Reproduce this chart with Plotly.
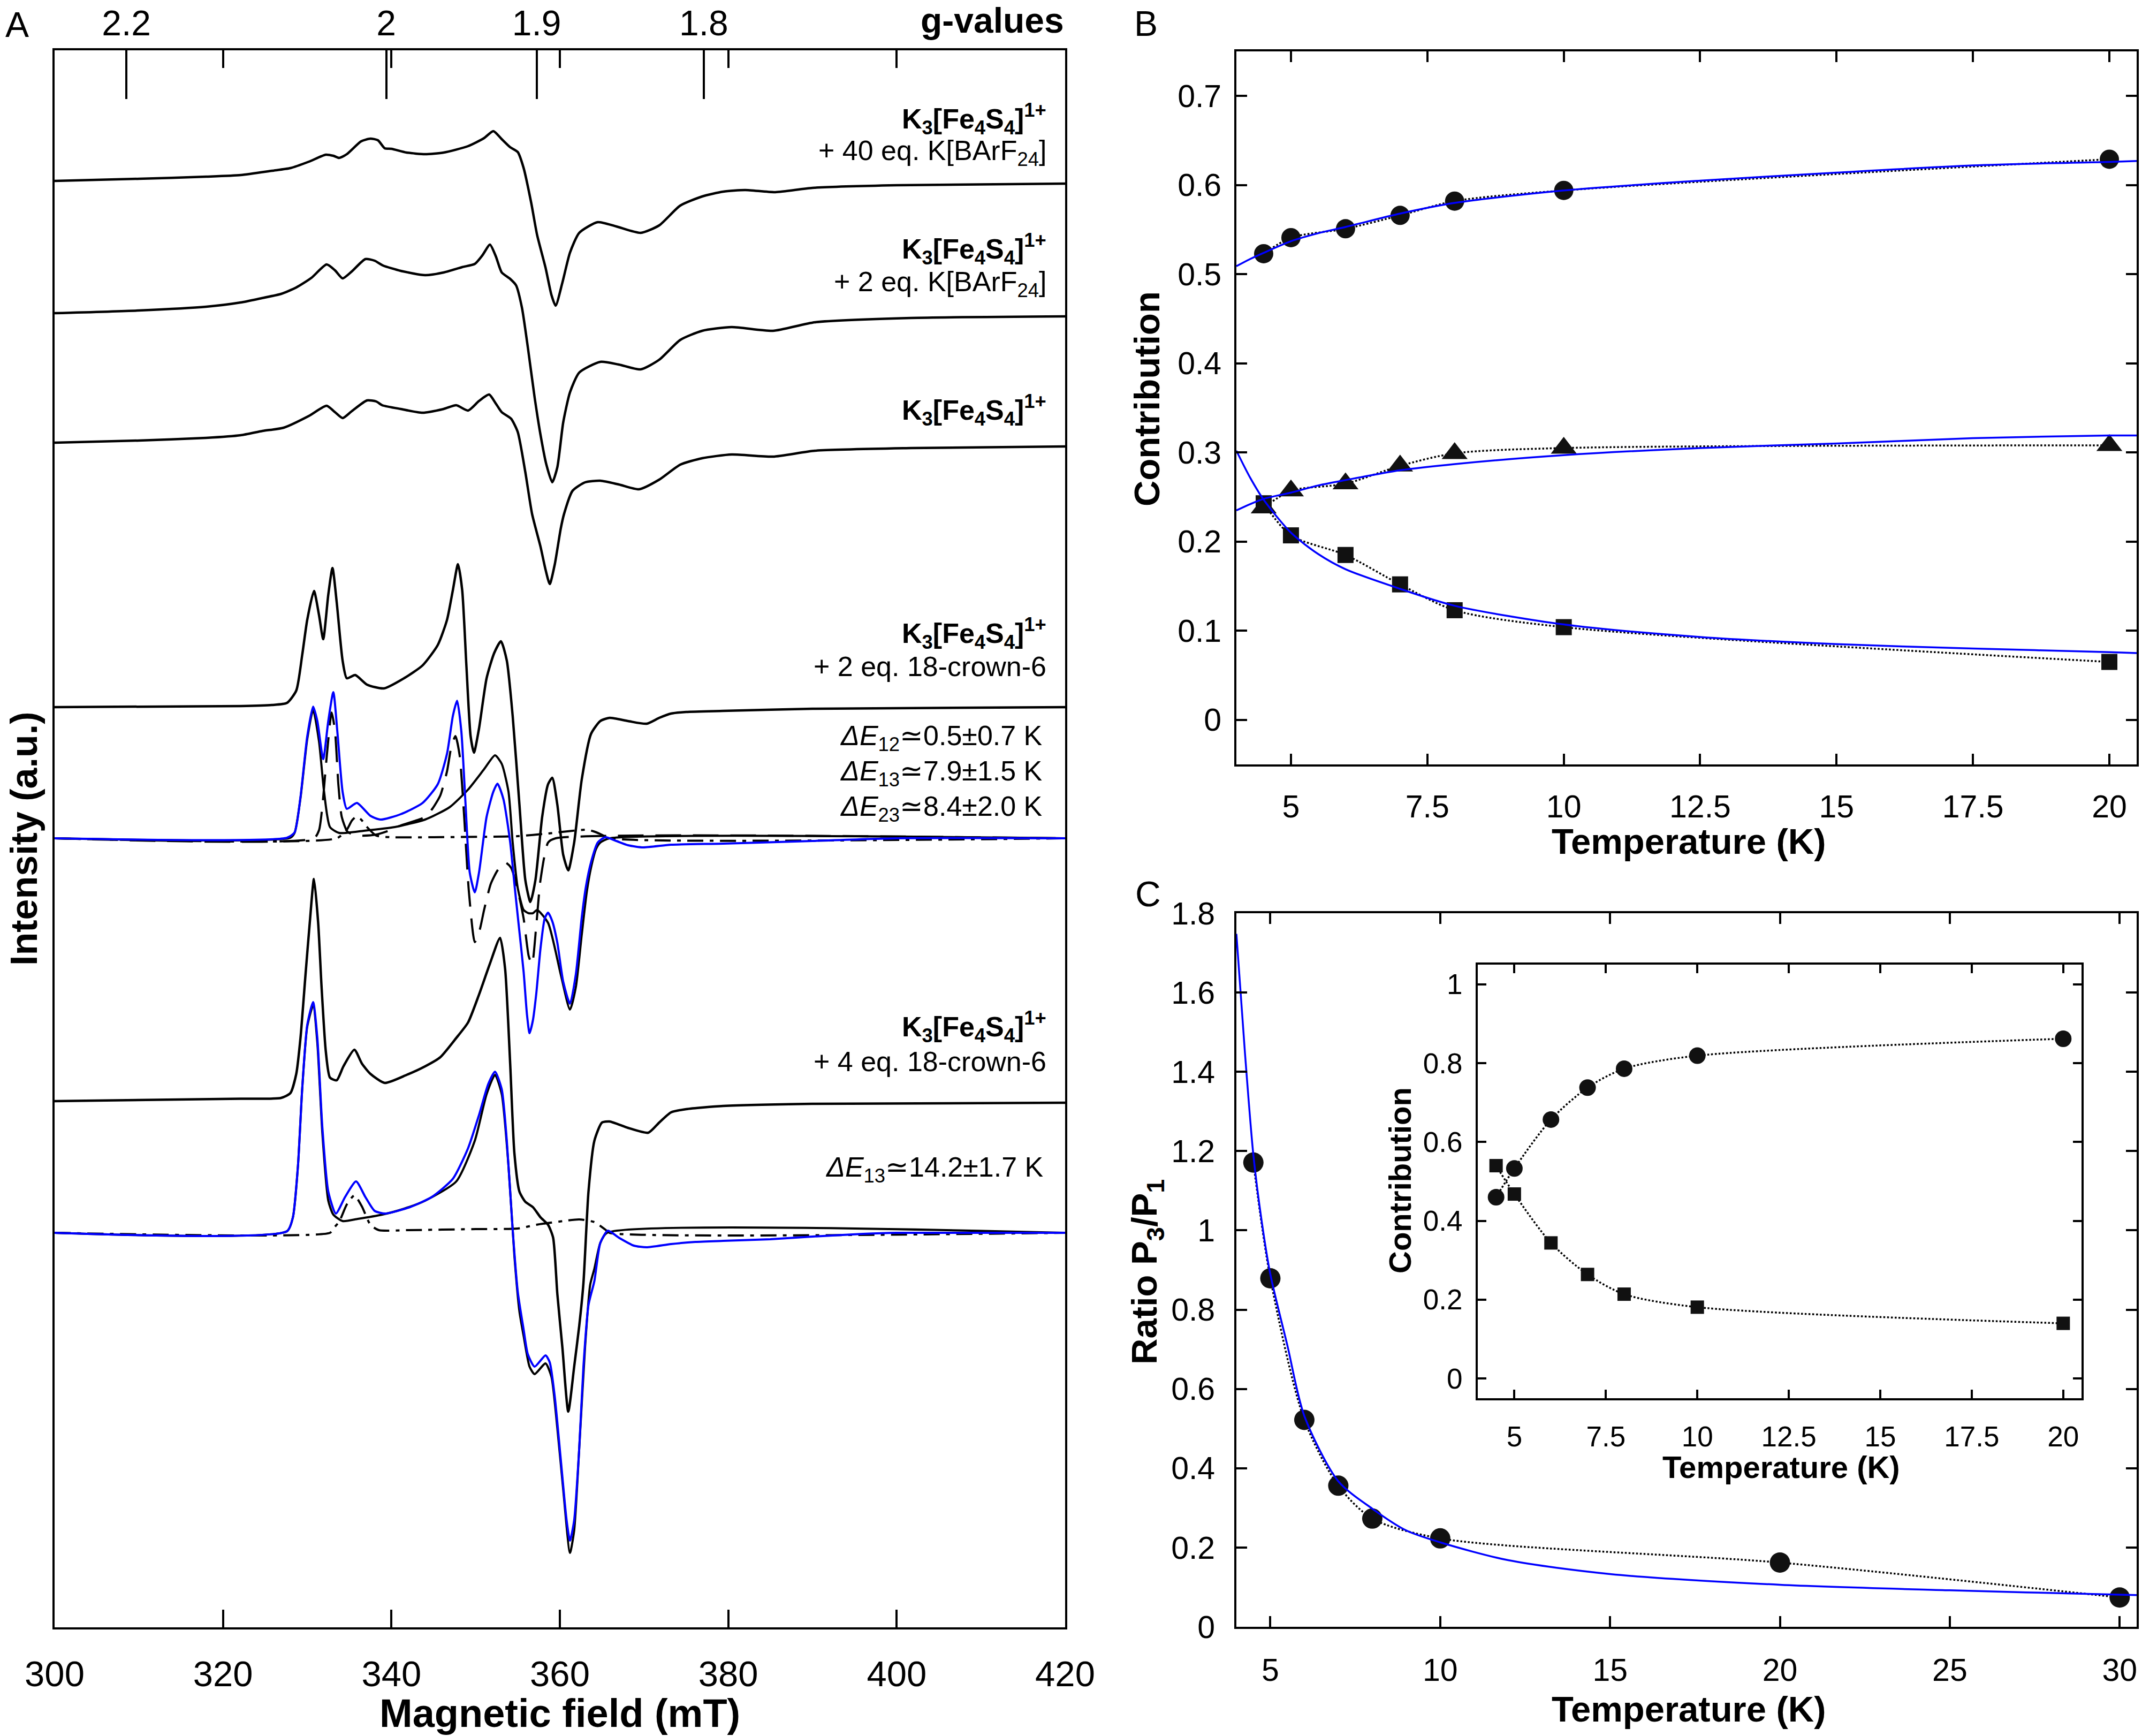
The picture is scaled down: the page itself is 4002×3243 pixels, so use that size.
import plotly.graph_objects as go

W, H = 4002, 3243
FONT = "Liberation Sans, Arial, Helvetica, sans-serif"
BLACK = "#000000"
BLUE = "#0000ff"

# ------------------------------------------------------------------
# Panel A : EPR spectra (field in mT, intensity in a.u., relative to baseline)
# ------------------------------------------------------------------
field_40eq = [300, 310, 318, 322.1, 325.8, 328.0, 330.2, 332.2, 333.1, 333.8,
              334.7, 336.4, 337.5, 338.4, 339.2, 340.0, 341.8, 344.0, 346.2, 349.1,
              351.0, 352.1, 353.1, 354.1, 355.0, 355.7, 356.6, 357.3, 358.3, 359.0,
              359.5, 360.3, 361.2, 362.3, 364.5, 366.7, 369.6, 371.8, 374.3, 376.9,
              379.4, 382, 385.6, 390, 400, 420]
int_40eq = [0, 0.04, 0.08, 0.11, 0.19, 0.24, 0.36, 0.49, 0.47, 0.43,
            0.50, 0.74, 0.79, 0.76, 0.61, 0.60, 0.53, 0.50, 0.53, 0.65,
            0.80, 0.93, 0.78, 0.63, 0.54, 0.24, -0.41, -1.01, -1.62, -2.13,
            -2.33, -1.90, -1.34, -0.97, -0.77, -0.85, -0.97, -0.83, -0.46, -0.29,
            -0.20, -0.17, -0.21, -0.13, -0.08, -0.05]

field_2eqB = [300, 310, 318, 322.1, 324.3, 326.9, 328.7, 330.5, 332.3, 333.3,
              334.2, 335.3, 336.9, 338.0, 339.0, 341.1, 344.0, 346.2, 348.4, 349.9,
              350.8, 351.7, 352.4, 353.1, 354.1, 354.8, 355.5, 356.2, 357.0, 357.7,
              358.4, 359.1, 359.7, 360.4, 361.2, 362.3, 364.8, 367.0, 369.6, 371.8,
              374.3, 376.9, 380.4, 385.3, 390.3, 401.7, 420]
int_2eqB = [0, 0.05, 0.12, 0.20, 0.27, 0.36, 0.48, 0.66, 0.91, 0.80,
            0.65, 0.78, 1.01, 0.98, 0.89, 0.79, 0.71, 0.76, 0.86, 0.92,
            1.08, 1.28, 1.06, 0.76, 0.64, 0.52, 0.10, -0.64, -1.57, -2.27,
            -2.83, -3.16, -2.88, -2.04, -1.48, -1.11, -0.91, -0.96, -1.05, -0.87,
            -0.50, -0.33, -0.26, -0.33, -0.17, -0.09, -0.06]

field_pure = [300, 310, 318, 322.1, 324.7, 327.2, 330.2, 332.3, 333.3, 334.2,
              335.3, 337.1, 338.2, 338.9, 341.1, 343.7, 346.2, 347.7, 349.1, 350.4,
              351.6, 352.4, 353.1, 354.2, 355.0, 355.9, 356.7, 357.7, 358.3, 358.8,
              359.4, 360.1, 360.5, 361.5, 363.0, 364.8, 367.0, 369.4, 371.8, 374.3,
              376.9, 380.4, 385.3, 390.3, 401.7, 420]
int_pure = [0, 0.04, 0.09, 0.14, 0.22, 0.28, 0.50, 0.69, 0.57, 0.46,
            0.59, 0.79, 0.77, 0.70, 0.63, 0.56, 0.63, 0.70, 0.60, 0.78,
            0.90, 0.73, 0.57, 0.45, 0.20, -0.55, -1.33, -1.94, -2.37, -2.64,
            -2.27, -1.61, -1.33, -0.90, -0.74, -0.71, -0.78, -0.87, -0.69, -0.41,
            -0.29, -0.22, -0.26, -0.15, -0.10, -0.07]

field_2crown = [300, 322.1, 325.8, 327.6, 328.7, 329.4, 330.0, 330.8, 331.4, 331.9,
                332.5, 333.0, 333.5, 334.2, 334.7, 335.7, 337.1, 339.1, 341.5, 343.7,
                345.5, 346.6, 347.3, 347.9, 348.4, 348.9, 349.4, 349.8, 350.4, 351.3,
                352.2, 353.0, 353.7, 354.4, 355.2, 355.9, 356.5, 357.1, 357.9, 358.6,
                359.1, 359.7, 360.4, 361.0, 361.7, 362.6, 363.7, 364.8, 365.9, 368.1,
                370.3, 371.8, 373.2, 375.0, 379.4, 390, 420]
int_2crown = [0, 0.02, 0.04, 0.08, 0.31, 0.97, 1.63, 2.17, 1.72, 1.27,
              2.10, 2.60, 1.96, 0.87, 0.54, 0.60, 0.42, 0.35, 0.54, 0.78,
              1.16, 1.63, 2.19, 2.67, 2.19, 0.78, -0.54, -0.85, -0.40, 0.54,
              1.01, 1.23, 0.87, -0.17, -1.82, -3.23, -3.64, -3.23, -2.05, -1.44,
              -1.32, -1.82, -2.76, -3.05, -2.53, -1.35, -0.50, -0.26, -0.20, -0.26,
              -0.31, -0.20, -0.12, -0.09, -0.07, -0.03, 0]

field_sim2 = [300, 327.6, 328.5, 329.2, 330.0, 330.7, 331.2, 331.9, 332.5, 333.1,
              333.6, 334.2, 334.7, 335.9, 337.5, 338.7, 341.1, 343.7, 345.5, 346.6,
              347.3, 347.8, 348.3, 348.8, 349.3, 349.9, 350.4, 351.3, 352.1, 352.6,
              353.3, 354.1, 354.6, 355.1, 355.7, 356.1, 356.4, 356.8, 357.2, 357.7,
              358.2, 358.6, 359.1, 359.7, 360.4, 361.2, 361.9, 362.6, 363.1, 363.7,
              364.5, 365.4, 366.7, 368.1, 369.9, 373.2, 379.4, 390, 400, 420]
int_sim2 = [0, 0.01, 0.11, 0.77, 1.90, 2.46, 2.19, 1.48, 2.19, 2.73,
            1.95, 0.87, 0.55, 0.66, 0.42, 0.35, 0.45, 0.66, 1.01, 1.58,
            2.29, 2.57, 2.00, 0.64, -0.64, -1.01, -0.64, 0.40, 0.87, 1.02,
            0.73, -0.07, -0.85, -1.60, -2.50, -3.30, -3.64, -3.40, -2.90, -2.06,
            -1.50, -1.39, -1.55, -1.95, -2.68, -3.09, -2.54, -1.48, -0.90, -0.45,
            -0.08, 0.02, -0.05, -0.13, -0.17, -0.12, -0.10, -0.05, 0, 0]

field_c2_solid = [300, 328.0, 328.5, 329.2, 330.0, 330.7, 331.4, 332.0, 332.7, 333.8,
                  336.7, 340.4, 344.0, 346.9, 349.1, 351.0, 352.3, 353.1, 353.9, 354.4,
                  355.0, 355.7, 356.3, 356.8, 357.3, 358.6, 360.1, 361.2, 361.9, 362.6,
                  363.2, 363.7, 364.3, 364.8, 365.9, 420]
int_c2_solid = [0, 0.01, 0.10, 0.75, 1.85, 2.40, 1.81, 0.87, 0.21, 0.10,
                0.14, 0.21, 0.35, 0.58, 0.91, 1.29, 1.55, 1.39, 0.87, -0.08,
                -0.93, -1.34, -1.40, -1.40, -1.34, -1.58, -2.54, -3.20, -2.78, -1.80,
                -1.00, -0.55, -0.20, -0.08, 0, 0]

field_c2_dash = [300, 330.8, 331.4, 331.8, 332.3, 332.9, 333.3, 333.7, 334.1, 334.8,
                 336.0, 338.2, 340.0, 341.1, 342.7, 344.0, 344.9, 345.8, 346.6, 347.1,
                 347.6, 348.1, 348.6, 349.2, 349.9, 350.5, 351.0, 351.8, 352.6, 353.5,
                 354.2, 354.9, 355.7, 356.3, 356.7, 357.2, 357.7, 358.6, 359.5, 420]
int_c2_dash = [0, 0, 0.15, 0.60, 1.50, 2.35, 2.00, 1.00, 0.40, 0.12,
               0.05, 0.07, 0.16, 0.24, 0.32, 0.40, 0.56, 0.80, 1.25, 1.70,
               1.91, 1.55, 0.50, -1.00, -1.94, -1.70, -1.34, -0.85, -0.60, -0.45,
               -0.55, -0.90, -1.50, -2.20, -2.35, -1.63, -0.78, -0.08, 0, 0]

field_c2_dashdot = [300, 333.5, 334.7, 335.3, 335.8, 336.4, 337.1, 338.2, 340, 345,
                    352, 355.0, 358.6, 361.5, 363.2, 364.0, 364.8, 365.9, 420]
int_c2_dashdot = [0, 0, 0.16, 0.33, 0.40, 0.35, 0.21, 0.05, 0.02, 0.02,
                  0.03, 0.04, 0.09, 0.14, 0.16, 0.13, 0.08, 0, 0]

field_4crown = [300, 322.1, 326.9, 328.0, 328.7, 329.2, 329.8, 330.3, 330.8, 331.3,
                331.7, 332.2, 332.7, 333.5, 334.3, 335.6, 336.5, 337.5, 339.2, 341.8,
                344.0, 345.8, 347.7, 349.1, 350.4, 351.7, 352.9, 353.5, 354.1, 354.6,
                355.2, 355.9, 356.8, 357.7, 358.6, 359.2, 359.7, 360.3, 361.0, 361.7,
                362.3, 362.8, 363.4, 364.1, 365.0, 365.9, 368.1, 370.5, 371.8, 373.2,
                375.0, 379.4, 390, 420]
int_4crown = [0, 0.045, 0.06, 0.15, 0.51, 1.18, 2.37, 3.33, 4.15, 3.33,
              2.14, 0.94, 0.44, 0.39, 0.65, 0.96, 0.70, 0.51, 0.34, 0.49,
              0.65, 0.82, 1.18, 1.47, 1.99, 2.57, 3.05, 2.47, 0.70, -0.97,
              -1.69, -1.88, -1.98, -2.17, -2.31, -2.55, -3.60, -4.60, -5.80, -4.96,
              -4.20, -3.40, -1.69, -0.74, -0.40, -0.38, -0.50, -0.59, -0.40, -0.21,
              -0.15, -0.09, -0.05, -0.03]

field_sim4 = [300, 327.6, 328.3, 328.9, 329.4, 330.0, 330.7, 331.2, 331.8, 332.5,
              333.4, 334.5, 335.8, 336.9, 338.0, 339.3, 342.2, 344.8, 347.3, 349.1,
              350.4, 351.5, 352.3, 353.1, 353.7, 354.4, 355.0, 355.7, 356.2, 357.0,
              358.3, 358.8, 359.4, 360.1, 360.8, 361.2, 361.7, 362.3, 362.8, 363.4,
              364.1, 364.8, 365.7, 367.0, 368.8, 370.3, 373.2, 376.1, 379.4, 385,
              390, 396, 400, 420]
int_sim4 = [0, 0.03, 0.29, 1.25, 2.68, 3.88, 4.31, 3.64, 1.96, 0.77,
            0.36, 0.67, 0.96, 0.67, 0.41, 0.36, 0.48, 0.67, 1.01, 1.58,
            2.20, 2.78, 3.01, 2.68, 1.72, 0.05, -1.10, -1.81, -2.27, -2.50,
            -2.29, -2.42, -3.07, -4.22, -5.37, -5.75, -5.37, -4.03, -2.50, -1.35,
            -0.90, -0.19, 0.04, -0.09, -0.24, -0.27, -0.21, -0.17, -0.15, -0.12,
            -0.07, -0.02, 0, 0]

field_c4_solid = [300, 327.6, 328.3, 328.9, 329.4, 330.0, 330.7, 331.2, 331.8, 332.5,
                  333.1, 334.2, 336.0, 338.9, 341.5, 344.0, 347.7, 349.9, 351.3, 352.3,
                  353.1, 353.9, 354.6, 355.2, 355.7, 356.4, 357.0, 358.3, 359.0, 359.7,
                  360.4, 361.2, 361.7, 362.3, 363.0, 363.6, 364.1, 364.8, 365.6, 420]
int_c4_solid = [0, 0.03, 0.29, 1.25, 2.68, 3.85, 4.25, 3.55, 1.85, 0.60,
                0.34, 0.22, 0.26, 0.34, 0.45, 0.60, 0.96, 1.72, 2.59, 2.95,
                2.59, 1.25, -0.43, -1.47, -1.93, -2.50, -2.64, -2.44, -2.69, -3.65,
                -4.80, -5.98, -5.56, -4.03, -2.12, -0.97, -0.67, -0.19, 0, 0]

field_c4_dashdot = [300, 332.7, 333.1, 333.8, 334.7, 335.6, 336.5, 337.5, 338.5, 342,
                    350, 355.0, 357.2, 360.4, 362.3, 364.1, 365.4, 365.9, 420]
int_c4_dashdot = [0, 0, 0.08, 0.21, 0.53, 0.70, 0.49, 0.15, 0.05, 0.05,
                  0.07, 0.08, 0.15, 0.22, 0.25, 0.20, 0.06, 0, 0]

# vertical stacking offsets of the spectra (a.u.)
offset_40eq, offset_2eqB, offset_pure = 27.02, 24.55, 22.13
offset_2crown, offset_sim2 = 17.19, 14.74
offset_4crown, offset_sim4 = 9.83, 7.37

field_ticks = [300, 320, 340, 360, 380, 400, 420]
g_ticks = [2.2, 2.0, 1.9, 1.8]
mw_freq_GHz = 9.5          # X-band frequency used for the g-value scale
h_over_muB = 71.4477       # mT * GHz^-1 (h / mu_B)

# ------------------------------------------------------------------
# Panel B
# ------------------------------------------------------------------
temp_B = [4.5, 5, 6, 7, 8, 10, 20]
contrib_circle = [0.523, 0.541, 0.551, 0.566, 0.582, 0.594, 0.629]
contrib_triangle = [0.238, 0.257, 0.265, 0.285, 0.299, 0.305, 0.308]
contrib_square = [0.243, 0.207, 0.185, 0.152, 0.123, 0.104, 0.065]
fit_temp_B = [4, 4.25, 4.5, 5, 5.5, 6, 7, 8, 10, 12.5, 15, 17.5, 20, 20.5]
fit_circle = [0.509, 0.517, 0.524, 0.537, 0.546, 0.553, 0.568, 0.580, 0.594, 0.605, 0.614, 0.622, 0.626, 0.627]
fit_triangle = [0.235, 0.242, 0.248, 0.255, 0.263, 0.269, 0.280, 0.287, 0.297, 0.305, 0.310, 0.316, 0.319, 0.319]
fit_square = [0.302, 0.272, 0.247, 0.210, 0.186, 0.169, 0.147, 0.128, 0.107, 0.093, 0.085, 0.080, 0.076, 0.075]

# ------------------------------------------------------------------
# Panel C
# ------------------------------------------------------------------
temp_C = [4.5, 5, 6, 7, 8, 10, 20, 30]
ratio_C = [1.171, 0.879, 0.522, 0.356, 0.273, 0.223, 0.162, 0.074]
fit_temp_C = [4, 4.25, 4.5, 4.75, 5, 5.5, 6, 7, 8, 9, 10, 12, 15, 20, 25, 30, 30.5]
fit_ratio_C = [1.748, 1.45, 1.19, 1.02, 0.889, 0.710, 0.532, 0.367, 0.298, 0.243, 0.213, 0.168, 0.133, 0.106, 0.092, 0.081, 0.080]

temp_inset = [4.5, 5, 6, 7, 8, 10, 20]
inset_circle = [0.460, 0.533, 0.657, 0.738, 0.786, 0.819, 0.862]
inset_square = [0.540, 0.468, 0.344, 0.264, 0.214, 0.181, 0.140]


def px(x):
    return x / W


def py(y):
    return 1 - y / H


fig = go.Figure()


def spec(xs, ys, off, color, width=4.5, dash="solid", xa="x", ya="y"):
    fig.add_trace(go.Scatter(
        x=xs, y=[v + off for v in ys], mode="lines", xaxis=xa, yaxis=ya,
        line=dict(color=color, width=width, dash=dash, shape="spline", smoothing=0.6),
        showlegend=False, hoverinfo="skip"))


DASH = "48px,22px"
DASHDOT = "30px,12px,7px,12px"

# components first, then data, then simulation
spec(field_c2_solid, int_c2_solid, offset_sim2, BLACK, 4)
spec(field_c2_dash, int_c2_dash, offset_sim2, BLACK, 4, DASH)
spec(field_c2_dashdot, int_c2_dashdot, offset_sim2, BLACK, 4, DASHDOT)
spec(field_c4_solid, int_c4_solid, offset_sim4, BLACK, 4)
spec(field_c4_dashdot, int_c4_dashdot, offset_sim4, BLACK, 4, DASHDOT)

spec(field_40eq, int_40eq, offset_40eq, BLACK)
spec(field_2eqB, int_2eqB, offset_2eqB, BLACK)
spec(field_pure, int_pure, offset_pure, BLACK)
spec(field_2crown, int_2crown, offset_2crown, BLACK)
spec(field_4crown, int_4crown, offset_4crown, BLACK)

spec(field_sim2, int_sim2, offset_sim2, BLUE, 4)
spec(field_sim4, int_sim4, offset_sim4, BLUE, 4)

# dummy trace so the g-value axis exists
fig.add_trace(go.Scatter(x=[300, 420], y=[None, None], xaxis="x2", yaxis="y",
                         mode="lines", showlegend=False, hoverinfo="skip"))


def pts(xs, ys, symbol, size, xa, ya):
    fig.add_trace(go.Scatter(
        x=xs, y=ys, mode="lines+markers", xaxis=xa, yaxis=ya,
        line=dict(color=BLACK, width=3.5, dash="dot", shape="spline", smoothing=0.8),
        marker=dict(symbol=symbol, size=size, color="#111111", line=dict(width=0)),
        showlegend=False, hoverinfo="skip"))


def fitline(xs, ys, xa, ya):
    fig.add_trace(go.Scatter(
        x=xs, y=ys, mode="lines", xaxis=xa, yaxis=ya,
        line=dict(color=BLUE, width=3.5, shape="spline", smoothing=0.8),
        showlegend=False, hoverinfo="skip"))


# Panel B
pts(temp_B, contrib_circle, "circle", 36, "x3", "y3")
pts(temp_B, contrib_triangle, "triangle-up", 42, "x3", "y3")
pts(temp_B, contrib_square, "square", 30, "x3", "y3")
fitline(fit_temp_B, fit_circle, "x3", "y3")
fitline(fit_temp_B, fit_triangle, "x3", "y3")
fitline(fit_temp_B, fit_square, "x3", "y3")

# Panel C
pts(temp_C, ratio_C, "circle", 38, "x4", "y4")
fitline(fit_temp_C, fit_ratio_C, "x4", "y4")

# Inset
pts(temp_inset, inset_circle, "circle", 31, "x5", "y5")
pts(temp_inset, inset_square, "square", 25, "x5", "y5")

g_fields = [h_over_muB * mw_freq_GHz / g for g in g_ticks]


def frame_axis(**kw):
    base = dict(showgrid=False, zeroline=False, showline=True, linecolor=BLACK,
                linewidth=4, ticks="inside", tickcolor=BLACK, tickwidth=3.5,
                mirror="ticks", automargin=False,
                tickfont=dict(family=FONT, size=59, color=BLACK))
    base.update(kw)
    return base


layout = dict(
    width=W, height=H, margin=dict(l=0, r=0, t=0, b=0, pad=0, autoexpand=False),
    paper_bgcolor="white", plot_bgcolor="white", showlegend=False,
    font=dict(family=FONT, color=BLACK),
    xaxis=frame_axis(domain=[px(102), px(1990)], anchor="y", range=[300, 420],
                     tickvals=field_ticks, ticklen=33, tickwidth=4,
                     tickfont=dict(family=FONT, size=67, color=BLACK),
                     ticklabelstandoff=26),
    xaxis2=dict(overlaying="x", anchor="y", side="top", range=[300, 420],
                tickvals=g_fields, ticktext=[f"{g:g}" for g in g_ticks],
                ticks="inside", ticklen=91, tickwidth=4, tickcolor=BLACK,
                showline=False, showgrid=False, zeroline=False, automargin=False,
                tickfont=dict(family=FONT, size=66, color=BLACK),
                ticklabelstandoff=14),
    yaxis=dict(domain=[py(3040), py(94)], anchor="x", range=[0, 29.46],
               showticklabels=False, ticks="", showline=True, mirror=True,
               linecolor=BLACK, linewidth=4, showgrid=False, zeroline=False,
               automargin=False),
    xaxis3=frame_axis(domain=[px(2310), px(3992)], anchor="y3", range=[4, 20.5],
                      tickvals=[5, 7.5, 10, 12.5, 15, 17.5, 20], ticklen=20,
                      ticklabelstandoff=24),
    yaxis3=frame_axis(domain=[py(1428), py(96)], anchor="x3", range=[-0.05, 0.75],
                      tickvals=[0, 0.1, 0.2, 0.3, 0.4, 0.5, 0.6, 0.7], ticklen=20,
                      ticklabelstandoff=12),
    xaxis4=frame_axis(domain=[px(2310), px(3992)], anchor="y4", range=[4, 30.5],
                      tickvals=[5, 10, 15, 20, 25, 30], ticklen=20,
                      ticklabelstandoff=26),
    yaxis4=frame_axis(domain=[py(3039), py(1706)], anchor="x4", range=[0, 1.8],
                      tickvals=[0, 0.2, 0.4, 0.6, 0.8, 1, 1.2, 1.4, 1.6, 1.8],
                      ticklen=20, ticklabelstandoff=24),
    xaxis5=frame_axis(domain=[px(2761), px(3889)], anchor="y5", range=[4, 20.5],
                      tickvals=[5, 7.5, 10, 12.5, 15, 17.5, 20], ticklen=16,
                      tickfont=dict(family=FONT, size=53, color=BLACK),
                      ticklabelstandoff=22),
    yaxis5=frame_axis(domain=[py(2612), py(1802)], anchor="x5", range=[-0.05, 1.05],
                      tickvals=[0, 0.2, 0.4, 0.6, 0.8, 1], ticklen=16,
                      tickfont=dict(family=FONT, size=53, color=BLACK),
                      ticklabelstandoff=14),
)
fig.update_layout(**layout)

ann = []


def text(t, x, y, size, xanchor="center", angle=0, yanchor="middle"):
    ann.append(dict(text=t, x=px(x), y=py(y), xref="paper", yref="paper",
                    showarrow=False, xanchor=xanchor, yanchor=yanchor,
                    textangle=angle, font=dict(family=FONT, size=size, color=BLACK)))


K3 = "<b>K<sub>3</sub>[Fe<sub>4</sub>S<sub>4</sub>]<sup>1+</sup></b>"
text(K3, 1957, 222, 52, "right")
text("+ 40 eq. K[BArF<sub>24</sub>]", 1957, 285, 52, "right")
text(K3, 1957, 465, 52, "right")
text("+ 2 eq. K[BArF<sub>24</sub>]", 1957, 530, 52, "right")
text(K3, 1957, 766, 52, "right")
text(K3, 1957, 1183, 52, "right")
text("+ 2 eq. 18-crown-6", 1957, 1245, 52, "right")
text("<i>ΔE</i><sub>12</sub>≃0.5±0.7 K", 1950, 1378, 52, "right")
text("<i>ΔE</i><sub>13</sub>≃7.9±1.5 K", 1950, 1444, 52, "right")
text("<i>ΔE</i><sub>23</sub>≃8.4±2.0 K", 1950, 1510, 52, "right")
text(K3, 1957, 1918, 52, "right")
text("+ 4 eq. 18-crown-6", 1957, 1983, 52, "right")
text("<i>ΔE</i><sub>13</sub>≃14.2±1.7 K", 1952, 2184, 52, "right")

text("<b>g-values</b>", 1990, 38, 66, "right")
text("<b>Magnetic field (mT)</b>", 1046, 3200, 74)
text("<b>Intensity (a.u.)</b>", 45, 1567, 70, angle=-90)

text("<b>Temperature (K)</b>", 3155, 1572, 67)
text("<b>Contribution</b>", 2142, 745, 67, angle=-90)
text("<b>Temperature (K)</b>", 3155, 3192, 67)
text("<b>Ratio P<sub>3</sub>/P<sub>1</sub></b>", 2142, 2376, 67, angle=-90)
text("<b>Temperature (K)</b>", 3328, 2740, 58)
text("<b>Contribution</b>", 2615, 2205, 58, angle=-90)

text("A", 32, 46, 66)
text("B", 2141, 44, 66)
text("C", 2145, 1670, 66)

fig.update_layout(annotations=ann)
fig.write_html("out.html")
